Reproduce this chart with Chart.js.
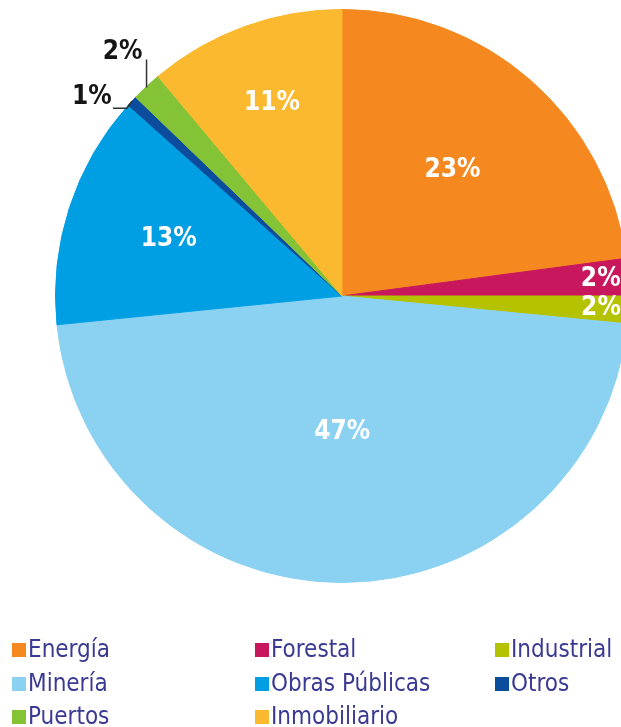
<!DOCTYPE html>
<html><head><meta charset="utf-8">
<script src="https://cdn.jsdelivr.net/npm/chart.js@4.4.0/dist/chart.umd.min.js"></script>
<style>
html,body{margin:0;padding:0;background:#fff;overflow:hidden;width:621px;height:727px;}
#wrap{position:absolute;left:0;top:0;width:684px;height:592px;}
#legend{position:absolute;left:0;top:0;width:621px;height:727px;font-family:"DejaVu Sans Condensed","DejaVu Sans",sans-serif;font-size:24px;color:#3a3a93;}
.txt{position:absolute;white-space:nowrap;line-height:24px;}
.sw{position:absolute;width:14px;height:14px;}
</style></head><body>
<div id="wrap"><canvas id="c"></canvas></div>
<div id="legend"></div>
<script>
// ---- data ----
const categories = ["Energía","Forestal","Industrial","Minería","Obras Públicas","Otros","Puertos","Inmobiliario"];
const shares = [22.9, 2.1, 1.55, 46.85, 13.2, 0.6, 1.7, 11.1];
// ---- styles ----
const colors = ["#F5891F","#C8175D","#B5C200","#8BD2F2","#009FE3","#0B4C9C","#84C336","#FBB92F"];
const labelRadius = [0.585, 0.905, 0.905, 0.477, 0.636, null, null, 0.715];
const callouts = {
  5: {path: [[0,0],[-5,7],[-19,7]], text: [-40,-4]},
  6: {path: [[0,1],[0,-27]], text: [-24,-34]}
};
const legendCols = [12, 255, 495];
const legendBaselines = [657, 691, 724];

const pctPlugin = {
  id: 'pct',
  afterDatasetsDraw(chart) {
    const ctx = chart.ctx;
    const meta = chart.getDatasetMeta(0);
    ctx.save();
    ctx.font = 'bold 26px "DejaVu Sans Condensed", "DejaVu Sans", sans-serif';
    ctx.textAlign = 'center';
    ctx.textBaseline = 'middle';
    meta.data.forEach((arc, i) => {
      const p = arc.getProps(['x','y','startAngle','endAngle','outerRadius'], true);
      const mid = (p.startAngle + p.endAngle) / 2;
      const txt = Math.round(shares[i]) + '%';
      if (labelRadius[i] != null) {
        const r = p.outerRadius * labelRadius[i];
        ctx.fillStyle = '#ffffff';
        ctx.fillText(txt, p.x + Math.cos(mid) * r, p.y + Math.sin(mid) * r);
      } else {
        const px = p.x + Math.cos(mid) * p.outerRadius;
        const py = p.y + Math.sin(mid) * p.outerRadius;
        const c = callouts[i];
        ctx.strokeStyle = '#333333';
        ctx.lineWidth = 1.5;
        ctx.beginPath();
        c.path.forEach((pt, k) => {
          if (k === 0) ctx.moveTo(px + pt[0], py + pt[1]);
          else ctx.lineTo(px + pt[0], py + pt[1]);
        });
        ctx.stroke();
        ctx.fillStyle = '#151515';
        ctx.fillText(txt, px + c.text[0], py + c.text[1]);
      }
    });
    ctx.restore();
  }
};

new Chart(document.getElementById('c'), {
  type: 'pie',
  data: {
    labels: categories,
    datasets: [{
      data: shares,
      backgroundColor: colors,
      borderColor: colors,
      borderWidth: 1
    }]
  },
  options: {
    responsive: true,
    maintainAspectRatio: false,
    animation: false,
    layout: {padding: 9},
    plugins: {legend: {display: false}, tooltip: {enabled: false}}
  },
  plugins: [pctPlugin]
});

// legend grid
const leg = document.getElementById('legend');
categories.forEach((name, i) => {
  const col = i % 3, row = Math.floor(i / 3);
  const x = legendCols[col], base = legendBaselines[row];
  const sw = document.createElement('div');
  sw.className = 'sw';
  sw.style.left = x + 'px';
  sw.style.top = (base - 14) + 'px';
  sw.style.background = colors[i];
  leg.appendChild(sw);
  const t = document.createElement('div');
  t.className = 'txt';
  t.style.left = (x + 16) + 'px';
  t.style.top = (base - 20.3) + 'px';
  t.textContent = name;
  leg.appendChild(t);
});
</script>
</body></html>
